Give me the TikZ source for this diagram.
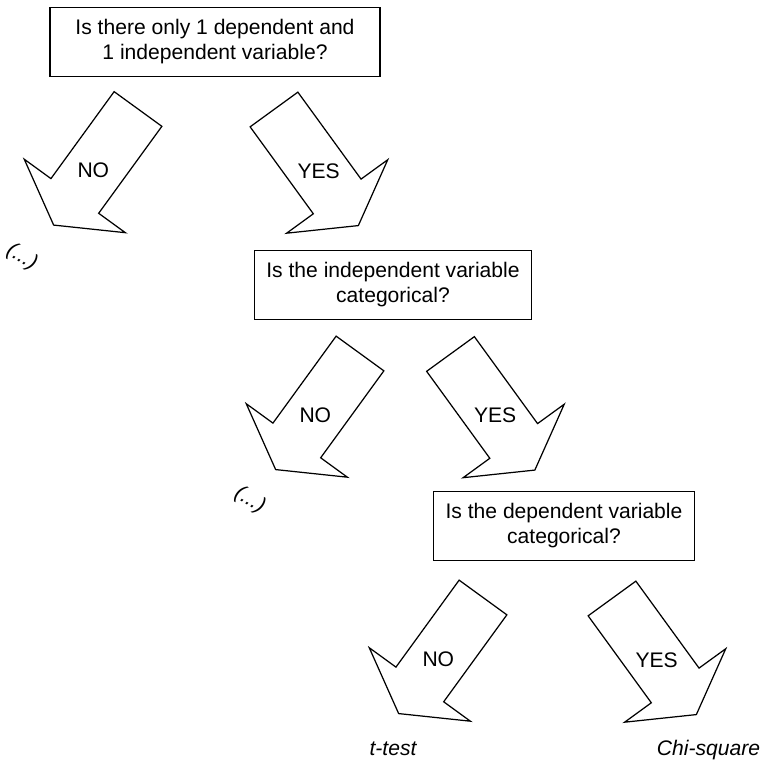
\documentclass[tikz,border=0pt]{standalone}
\usepackage{fontspec}
\setmainfont{Liberation Sans}
\begin{document}
\begin{tikzpicture}[
        question/.style={draw, line width=0.9pt, align=center, inner xsep=0.24cm, minimum height=1.38cm, font=\fontsize{12}{14.2}\selectfont},
        answer/.style={font=\fontsize{12}{14.2}\selectfont},
        outcome/.style={anchor=base, font=\fontsize{12}{14.2}\selectfont\itshape},
        blockarrow/.style={line width=0.7pt, line join=miter}
    ]
                \useasboundingbox (0,0) rectangle (15.26,15.22);

                % Questions
                \node[question, minimum width=6.6cm] (q1) at (4.30,14.38) {Is there only 1 dependent and\\1 independent variable?};
                \node[question] (q2) at (7.86,9.52) {Is the independent variable\\categorical?};
                \node[question] (q3) at (11.28,4.70) {Is the dependent variable\\categorical?};

                % Big arrows with the answers
                \foreach \x/\y/\a/\t/\n in {2.76/13.04/234/NO/no1, 5.48/13.03/306/YES/yes1,
                                            7.20/8.15/234/NO/no2, 9.01/8.14/306/YES/yes2,
                                            9.66/3.27/234/NO/no3, 12.24/3.25/306/YES/yes3} {
                    \begin{scope}[shift={(\x,\y)}, rotate=\a]
                        \draw[blockarrow] (0,-0.59) -- (2.15,-0.59) -- (2.15,-1.25) -- (2.87,0)
                            -- (2.15,1.25) -- (2.15,0.59) -- (0,0.59) -- cycle;
                        \node[answer] (\n) at (1.52,0) {\t};
                    \end{scope}
                }

                % Where the NO branches go on
                \node[answer, font=\fontsize{12}{14.2}\selectfont\itshape, rotate=-31] (etc1) at (0.44,10.08) {(...)};
                \node[answer, font=\fontsize{12}{14.2}\selectfont\itshape, rotate=-31] (etc2) at (5.00,5.22) {(...)};

                % Tests
                \node[outcome] (ttest) at (7.86,0.10) {t-test};
                \node[outcome] (chisq) at (14.17,0.10) {Chi-square};
            \end{tikzpicture}
\end{document}
